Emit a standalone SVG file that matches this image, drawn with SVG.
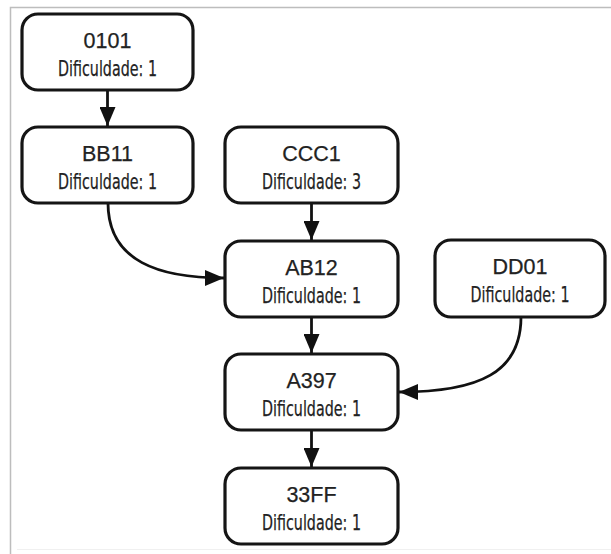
<svg xmlns="http://www.w3.org/2000/svg" width="611" height="554" viewBox="0 0 611 554">
  <style>
    .box { fill: #ffffff; stroke: #151515; stroke-width: 3.2; }
    .title { font-family: "Liberation Sans", Arial, sans-serif; font-size: 21.5px; fill: #222222; stroke: #222222; stroke-width: 0.25; text-anchor: middle; }
    .sub { font-family: "Liberation Sans Narrow", "DejaVu Sans Condensed", "Liberation Sans", sans-serif; font-size: 22px; fill: #222222; stroke: #222222; stroke-width: 0.25; text-anchor: middle; }
    .edge { fill: none; stroke: #111111; stroke-width: 2.8; }
    .frame { stroke: #bdbdbd; stroke-width: 1.5; fill: none; }
  </style>
  <defs>
    <marker id="arrow" markerUnits="userSpaceOnUse" markerWidth="20" markerHeight="16" refX="19" refY="8" orient="auto">
      <path d="M0,0 L19,8 L0,16 Z" fill="#111111"/>
    </marker>
  </defs>

  <rect width="611" height="554" fill="#ffffff"/>
  <!-- page frame -->
  <path class="frame" d="M10.5,554 L10.5,7.5 L611,7.5"/>
  <path d="M17,549.5 L611,549.5" stroke="#f0f0f0" stroke-width="1"/>

  <!-- connectors -->
  <g id="edges">
    <path class="edge" marker-end="url(#arrow)" d="M107.5,90 L107.5,126"/>
    <path class="edge" marker-end="url(#arrow)" d="M311.5,203 L311.5,240"/>
    <path class="edge" marker-end="url(#arrow)" d="M311.5,317 L311.5,353"/>
    <path class="edge" marker-end="url(#arrow)" d="M311.5,430 L311.5,467"/>
    <path class="edge" marker-end="url(#arrow)" d="M108,203 C108,262 160,278 224,278"/>
    <path class="edge" marker-end="url(#arrow)" d="M521,317 C521,372 480,392 399,392"/>
  </g>

  <!-- nodes -->
  <g id="n0101">
    <rect class="box" x="22" y="14" width="171" height="76" rx="16"/>
    <text class="title" x="107.5" y="48">0101</text>
    <text class="sub" x="107.5" y="76" textLength="99" lengthAdjust="spacingAndGlyphs">Dificuldade: 1</text>
  </g>
  <g id="nBB11">
    <rect class="box" x="22" y="127" width="171" height="76" rx="16"/>
    <text class="title" x="107.5" y="161">BB11</text>
    <text class="sub" x="107.5" y="189" textLength="99" lengthAdjust="spacingAndGlyphs">Dificuldade: 1</text>
  </g>
  <g id="nCCC1">
    <rect class="box" x="225" y="127" width="173" height="76" rx="16"/>
    <text class="title" x="311.5" y="161">CCC1</text>
    <text class="sub" x="311.5" y="189" textLength="99" lengthAdjust="spacingAndGlyphs">Dificuldade: 3</text>
  </g>
  <g id="nAB12">
    <rect class="box" x="225" y="241" width="173" height="76" rx="16"/>
    <text class="title" x="311.5" y="275">AB12</text>
    <text class="sub" x="311.5" y="303" textLength="99" lengthAdjust="spacingAndGlyphs">Dificuldade: 1</text>
  </g>
  <g id="nDD01">
    <rect class="box" x="435" y="240" width="170" height="77" rx="16"/>
    <text class="title" x="520" y="274">DD01</text>
    <text class="sub" x="520" y="302" textLength="99" lengthAdjust="spacingAndGlyphs">Dificuldade: 1</text>
  </g>
  <g id="nA397">
    <rect class="box" x="225" y="354" width="173" height="76" rx="16"/>
    <text class="title" x="311.5" y="388">A397</text>
    <text class="sub" x="311.5" y="416" textLength="99" lengthAdjust="spacingAndGlyphs">Dificuldade: 1</text>
  </g>
  <g id="n33FF">
    <rect class="box" x="225" y="468" width="173" height="76" rx="16"/>
    <text class="title" x="311.5" y="502">33FF</text>
    <text class="sub" x="311.5" y="530" textLength="99" lengthAdjust="spacingAndGlyphs">Dificuldade: 1</text>
  </g>
</svg>
